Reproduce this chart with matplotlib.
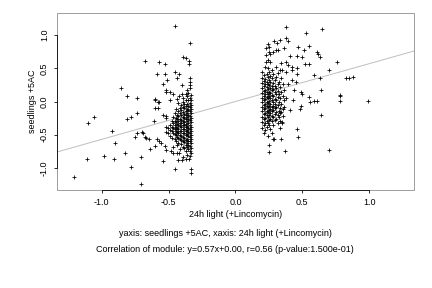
import numpy as np
import matplotlib.pyplot as plt
from matplotlib.patches import Rectangle

# scatter values (x: 24h light +Lincomycin, y: seedlings +5AC)
left_sparse = [(-0.68, 0.61), (-0.86, 0.21), (-0.81, 0.09), (-0.74, 0.06), (-0.74, -0.17),
               (-0.78, -0.23), (-0.81, -0.26), (-1.06, -0.23), (-1.10, -0.32), (-0.92, -0.44),
               (-0.74, -0.48), (-0.69, -0.47), (-0.75, -0.53), (-0.68, -0.54), (-0.90, -0.63),
               (-0.83, -0.77), (-0.98, -0.82), (-1.11, -0.86), (-0.91, -0.86), (-0.71, -0.83),
               (-0.78, -0.98), (-1.21, -1.14), (-0.71, -1.25)]

left_upper = [(-0.45, 1.14), (-0.34, 0.88), (-0.57, 0.60), (-0.53, 0.56), (-0.39, 0.67),
              (-0.37, 0.66), (-0.35, 0.61), (-0.35, 0.56), (-0.59, 0.41), (-0.53, 0.41),
              (-0.45, 0.45), (-0.42, 0.41), (-0.51, 0.33), (-0.44, 0.35), (-0.54, 0.27),
              (-0.40, 0.25), (-0.34, 0.35), (-0.34, 0.30), (-0.34, 0.25), (-0.34, 0.20),
              (-0.52, 0.17), (-0.52, 0.14), (-0.49, 0.14), (-0.47, 0.11), (-0.42, 0.08),
              (-0.40, 0.12), (-0.37, 0.12), (-0.39, 0.05), (-0.60, 0.03), (-0.57, 0.00),
              (-0.49, 0.02), (-0.44, 0.04), (-0.36, 0.17)]

left_lower = [(-0.60, 0.04), (-0.58, -0.01), (-0.60, -0.10), (-0.58, -0.10), (-0.54, -0.20),
              (-0.52, -0.22), (-0.52, -0.25), (-0.61, -0.30), (-0.70, -0.46), (-0.67, -0.55),
              (-0.65, -0.57), (-0.59, -0.57), (-0.57, -0.59), (-0.56, -0.62), (-0.64, -0.72),
              (-0.60, -0.67), (-0.53, -0.67), (-0.52, -0.73), (-0.48, -0.75), (-0.47, -0.78),
              (-0.44, -0.77), (-0.42, -0.77), (-0.54, -0.89), (-0.43, -0.88), (-0.40, -0.88),
              (-0.37, -0.86), (-0.35, -0.86), (-0.45, -1.01), (-0.33, -1.02), (-0.33, -1.07)]

left_core = {
    -0.330: [0.10, 0.02, -0.05, -0.12, -0.18, -0.25, -0.31, -0.38, -0.44, -0.50, -0.57, -0.63, -0.70, -0.78],
    -0.343: [0.06, -0.02, -0.09, -0.15, -0.22, -0.28, -0.35, -0.41, -0.47, -0.54, -0.60, -0.67, -0.74, -0.82],
    -0.352: [0.13, 0.03, -0.06, -0.13, -0.20, -0.26, -0.33, -0.40, -0.46, -0.52, -0.59, -0.65, -0.72],
    -0.364: [0.08, -0.03, -0.11, -0.17, -0.24, -0.30, -0.37, -0.43, -0.49, -0.56, -0.62, -0.69, -0.80],
    -0.371: [0.02, -0.07, -0.14, -0.21, -0.27, -0.34, -0.39, -0.45, -0.51, -0.58, -0.66, -0.75],
    -0.386: [-0.04, -0.10, -0.19, -0.25, -0.31, -0.36, -0.42, -0.48, -0.55, -0.61, -0.70],
    -0.394: [0.00, -0.08, -0.16, -0.23, -0.29, -0.35, -0.41, -0.47, -0.53, -0.60, -0.68, -0.84],
    -0.407: [-0.05, -0.13, -0.21, -0.28, -0.33, -0.39, -0.45, -0.52, -0.58, -0.64],
    -0.415: [-0.10, -0.18, -0.26, -0.32, -0.37, -0.44, -0.50, -0.57, -0.72],
    -0.428: [-0.02, -0.14, -0.22, -0.30, -0.36, -0.42, -0.48, -0.55, -0.63],
    -0.436: [-0.20, -0.27, -0.34, -0.40, -0.46, -0.53, -0.66],
    -0.447: [-0.12, -0.25, -0.31, -0.38, -0.44, -0.51, -0.60],
    -0.455: [-0.18, -0.29, -0.36, -0.42, -0.49, -0.57],
    -0.468: [-0.23, -0.33, -0.40, -0.47, -0.69],
    -0.476: [-0.30, -0.38, -0.45, -0.55],
    -0.489: [-0.35, -0.43, -0.52],
    -0.503: [-0.40, -0.48],
    -0.518: [-0.46, -0.38],
}

right_sparse = [(0.38, 1.12), (0.53, 1.04), (0.29, 0.91), (0.31, 0.88), (0.33, 0.92), (0.38, 0.96),
                (0.39, 0.91), (0.24, 0.86), (0.25, 0.82), (0.23, 0.81), (0.36, 0.81), (0.28, 0.75),
                (0.25, 0.75), (0.23, 0.70), (0.26, 0.72), (0.30, 0.77), (0.32, 0.78), (0.47, 0.82),
                (0.51, 0.78), (0.55, 0.84), (0.41, 0.69), (0.46, 0.69), (0.50, 0.67), (0.61, 0.75),
                (0.62, 0.71), (0.63, 0.67), (0.24, 0.62), (0.23, 0.60), (0.26, 0.60), (0.34, 0.58),
                (0.38, 0.60), (0.39, 0.55), (0.42, 0.52), (0.52, 0.57), (0.55, 0.56), (0.30, 0.52),
                (0.33, 0.47), (0.24, 0.50), (0.35, 0.48), (0.38, 0.45), (0.42, 0.47), (0.46, 0.50),
                (0.46, 0.42), (0.59, 0.40), (0.65, 1.10), (0.76, 0.60), (0.70, 0.48), (0.63, 0.36),
                (0.83, 0.36), (0.85, 0.36), (0.88, 0.37), (0.64, 0.18), (0.78, 0.10), (0.78, 0.09),
                (0.61, 0.01), (0.78, 0.01), (0.99, 0.01), (0.64, -0.20), (0.70, -0.73),
                (0.42, 0.32), (0.45, 0.30), (0.39, 0.27), (0.49, 0.15), (0.50, 0.12), (0.44, 0.17),
                (0.55, 0.07), (0.59, 0.01), (0.56, 0.00), (0.38, 0.05), (0.43, 0.02),
                (0.41, -0.13), (0.48, -0.11), (0.49, -0.07), (0.35, -0.31), (0.35, -0.33),
                (0.33, -0.40), (0.46, -0.41), (0.27, -0.47), (0.47, -0.53), (0.28, -0.56),
                (0.29, -0.57), (0.34, -0.57), (0.25, -0.66), (0.25, -0.76), (0.37, -0.74)]

right_core = {
    0.200: [0.45, 0.36, 0.28, 0.20, 0.13, 0.06, -0.01, -0.08, -0.15, -0.23, -0.31, -0.40],
    0.212: [0.40, 0.31, 0.24, 0.16, 0.09, 0.02, -0.05, -0.12, -0.19, -0.27, -0.35, -0.48],
    0.221: [0.52, 0.34, 0.26, 0.18, 0.11, 0.04, -0.03, -0.10, -0.17, -0.25, -0.33, -0.43],
    0.233: [0.42, 0.30, 0.22, 0.14, 0.07, 0.00, -0.07, -0.14, -0.21, -0.29, -0.38],
    0.241: [0.37, 0.27, 0.19, 0.12, 0.05, -0.02, -0.09, -0.16, -0.24, -0.32, -0.52],
    0.254: [0.44, 0.33, 0.25, 0.15, 0.08, 0.01, -0.06, -0.13, -0.20, -0.28, -0.36],
    0.262: [0.39, 0.29, 0.21, 0.13, 0.06, -0.04, -0.11, -0.18, -0.26, -0.41],
    0.275: [0.48, 0.35, 0.23, 0.17, 0.10, 0.03, -0.08, -0.15, -0.22, -0.30],
    0.283: [0.41, 0.28, 0.19, 0.09, 0.00, -0.06, -0.13, -0.24, -0.35],
    0.296: [0.32, 0.24, 0.14, 0.04, -0.03, -0.10, -0.19, -0.28],
    0.304: [0.37, 0.20, 0.11, 0.02, -0.08, -0.16, -0.26],
    0.317: [0.43, 0.27, 0.16, 0.07, -0.05, -0.21, -0.33],
    0.325: [0.30, 0.12, -0.01, -0.14, -0.24],
    0.336: [0.22, 0.05, -0.10, -0.18, -0.29],
    0.344: [0.35, 0.14, -0.04, -0.16],
    0.357: [0.26, 0.09, -0.12, -0.22],
    0.366: [0.18, 0.02, -0.09],
}

slope, intercept = 0.57, 0.00
ticks = [-1.0, -0.5, 0.0, 0.5, 1.0]

pts = left_sparse + left_upper + left_lower + right_sparse
for core in (left_core, right_core):
    for x, ys in core.items():
        pts += [(x, y) for y in ys]
pts = np.array(pts)

plt.rcParams['font.family'] = ['Liberation Sans', 'DejaVu Sans']
fig = plt.figure(figsize=(6, 4), dpi=72)
ax = fig.add_axes([0.132, 0.340, 0.826, 0.615])

lim = 1.335
ax.set_xlim(-lim, lim)
ax.set_ylim(-lim, lim)

xs = np.array([-lim, lim])
ax.plot(xs, slope * xs + intercept, color='#c0c0c0', lw=1, zorder=1)
ax.plot(pts[:, 0], pts[:, 1], '+', color='black', ms=4.5, mew=0.8, zorder=2)

for s in ['top', 'right']:
    ax.spines[s].set_visible(False)
for s in ['left', 'bottom']:
    ax.spines[s].set_bounds(-1, 1)
    ax.spines[s].set_linewidth(0.8)
ax.add_patch(Rectangle((0, 0), 1, 1, transform=ax.transAxes, fill=False,
                       edgecolor='#a0a0a0', lw=1, clip_on=False, zorder=0))

ax.set_xticks(ticks)
ax.set_yticks(ticks)
ax.set_xticklabels([f'{t:.1f}' for t in ticks])
ax.set_yticklabels([f'{t:.1f}' for t in ticks], rotation=90, va='center')
ax.tick_params(direction='out', length=3, width=0.8, labelsize=9, pad=5)

ax.set_xlabel('24h light (+Lincomycin)', fontsize=9, labelpad=3)
ax.set_ylabel('seedlings +5AC', fontsize=9, labelpad=3)

fig.text(225 / 432, 1 - 233 / 288, 'yaxis: seedlings +5AC, xaxis: 24h light (+Lincomycin)',
         ha='center', va='center', fontsize=9)
fig.text(225 / 432, 1 - 250 / 288, 'Correlation of module: y=0.57x+0.00, r=0.56 (p-value:1.500e-01)',
         ha='center', va='center', fontsize=9)

fig.savefig('out.png', dpi=72)
